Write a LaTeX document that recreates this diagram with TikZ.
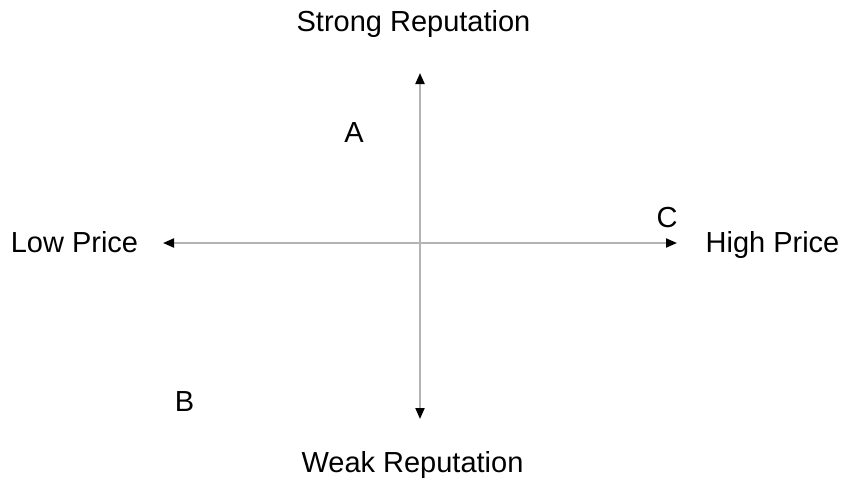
\documentclass[tikz,border=0pt]{standalone}
\usepackage{fontspec}
\setmainfont{Liberation Sans}
\usetikzlibrary{arrows.meta}
\definecolor{axisgray}{HTML}{B4B4B4}
\tikzset{
  lbl/.style={inner sep=0pt, anchor=base, font=\fontsize{29}{34}\selectfont, text=black},
  axis/.style={draw=axisgray, line width=2pt,
    arrows={Triangle[color=black,length=11pt,width=9pt]-Triangle[color=black,length=11pt,width=9pt]}}
}
\begin{document}
\begin{tikzpicture}[x=1pt,y=-1pt]
\useasboundingbox (0,0) rectangle (842,480);
\coordinate (top) at (420,73);
\coordinate (bottom) at (420,419);
\coordinate (left) at (163,243);
\coordinate (right) at (677,243);
\draw[axis] (left) -- (right);
\draw[axis] (bottom) -- (top);
\node[lbl] (strong) at (413.5,31) {Strong Reputation};
\node[lbl] (weak) at (412.5,472) {Weak Reputation};
\node[lbl] (low) at (74.5,252) {Low Price};
\node[lbl] (high) at (772.5,252) {High Price};
\node[lbl] (a) at (354,142) {A};
\node[lbl] (b) at (184.5,411) {B};
\node[lbl] (c) at (667,227) {C};
\end{tikzpicture}
\end{document}
